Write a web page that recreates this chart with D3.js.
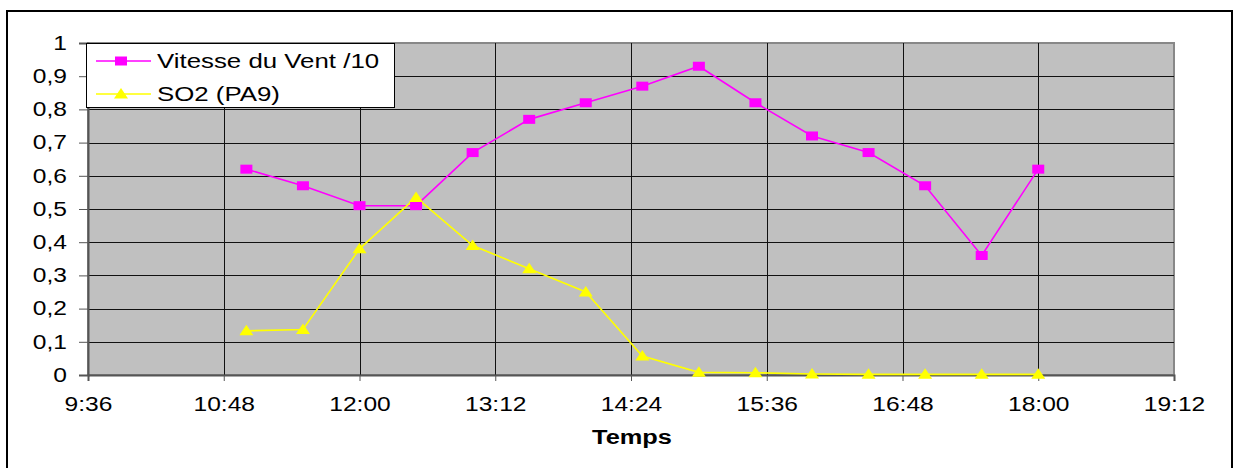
<!DOCTYPE html>
<html>
<head>
<meta charset="utf-8">
<script src="https://cdn.jsdelivr.net/npm/d3@7"></script>
<style>
body { margin: 0; background: #fff; }
svg { display: block; font-family: "Liberation Sans", Arial, sans-serif; }
</style>
</head>
<body>
<div id="chart"></div>
<script>
// heures des mesures
var heures = ["11:00","11:30","12:00","12:30","13:00","13:30","14:00","14:30","15:00","15:30","16:00","16:30","17:00","17:30","18:00"];
var vitesse = [0.62, 0.57, 0.51, 0.51, 0.67, 0.77, 0.82, 0.87, 0.93, 0.82, 0.72, 0.67, 0.57, 0.36, 0.62];
var so2 = [0.133, 0.137, 0.38, 0.535, 0.39, 0.32, 0.25, 0.057, 0.008, 0.007, 0.003, 0.002, 0.002, 0.002, 0.002];
var xTicks = ["9:36","10:48","12:00","13:12","14:24","15:36","16:48","18:00","19:12"];
var yTicks = [0, 0.1, 0.2, 0.3, 0.4, 0.5, 0.6, 0.7, 0.8, 0.9, 1];
var seriesNames = ["Vitesse du Vent /10", "SO2 (PA9)"];

function toMin(s) { var p = s.split(":"); return +p[0] * 60 + +p[1]; }

// le texte de l'image d'origine est étiré horizontalement
function stretch(sel, k) {
	sel.each(function() {
		var w = this.getComputedTextLength();
		d3.select(this)
				.attr("textLength", w * k)
				.attr("lengthAdjust", "spacingAndGlyphs");
	});
}

var width = 1236, height = 468;
var plot = {left: 88, right: 1174, top: 43, bottom: 375};
var fontSize = "19.5px";
var k = 1.26;

var svg = d3.select("#chart").append("svg")
		.attr("width", width)
		.attr("height", height);

// cadre extérieur
svg.append("rect")
		.attr("x", 7).attr("y", 11)
		.attr("width", 1225).attr("height", 470)
		.attr("fill", "#fff")
		.attr("stroke", "#000")
		.attr("stroke-width", 2);

var x = d3.scaleLinear()
		.domain([toMin(xTicks[0]), toMin(xTicks[xTicks.length - 1])])
		.range([plot.left, plot.right]);
var y = d3.scaleLinear()
		.domain([0, 1])
		.range([plot.bottom, plot.top]);

svg.append("rect")
		.attr("x", plot.left).attr("y", plot.top)
		.attr("width", plot.right - plot.left)
		.attr("height", plot.bottom - plot.top)
		.attr("fill", "#c0c0c0")
		.attr("stroke", "#888")
		.attr("stroke-width", 2);

var grid = svg.append("g").attr("id", "grid");
grid.selectAll("line.h")
		.data(yTicks.slice(1, -1))
		.enter()
		.append("line")
		.attr("class", "h")
		.attr("x1", plot.left).attr("x2", plot.right)
		.attr("y1", function(d) {return Math.round(y(d)) + 0.5})
		.attr("y2", function(d) {return Math.round(y(d)) + 0.5})
		.attr("stroke", "#111");
grid.selectAll("line.v")
		.data(xTicks.slice(1, -1))
		.enter()
		.append("line")
		.attr("class", "v")
		.attr("y1", plot.top).attr("y2", plot.bottom)
		.attr("x1", function(d) {return Math.round(x(toMin(d))) + 0.5})
		.attr("x2", function(d) {return Math.round(x(toMin(d))) + 0.5})
		.attr("stroke", "#111");

// axes
var yAxis = d3.axisLeft(y)
		.tickValues(yTicks)
		.tickSize(9)
		.tickPadding(12)
		.tickFormat(function(d) {return d3.format(".1~f")(d).replace(".", ",")});
var gy = svg.append("g")
		.attr("transform", "translate(" + plot.left + ",0)")
		.call(yAxis);

var xAxis = d3.axisBottom(x)
		.tickValues(xTicks.map(toMin))
		.tickSize(6)
		.tickFormat(function(d, i) {return xTicks[i]});
var gx = svg.append("g")
		.attr("transform", "translate(0," + plot.bottom + ")")
		.call(xAxis);
gx.selectAll(".tick text").attr("y", 36).attr("dy", null);

[gx, gy].forEach(function(g) {
	g.select(".domain").attr("stroke", "#555").attr("stroke-width", 2);
	g.selectAll(".tick line").attr("stroke", "#555");
	g.selectAll(".tick text")
			.attr("fill", "#000")
			.style("font-size", fontSize)
			.style("font-family", "Liberation Sans, Arial, sans-serif")
			.call(stretch, k);
});

svg.append("text")
		.attr("x", 632).attr("y", 444)
		.attr("text-anchor", "middle")
		.style("font-size", "20px")
		.style("font-weight", "bold")
		.text("Temps")
		.call(stretch, 1.27);

var line = d3.line()
		.x(function(d) {return x(d.t)})
		.y(function(d) {return y(d.v)});

var vData = heures.map(function(h, i) {return {t: toMin(h), v: vitesse[i]}});
var sData = heures.map(function(h, i) {return {t: toMin(h), v: so2[i]}});

// marqueurs un peu plus larges que hauts, comme dans l'original
var squarePath = "M-6,-4.5H6V4.5H-6Z";
var trianglePath = "M0,-6L7,4.5H-7Z";

svg.append("path")
		.datum(vData)
		.attr("d", line)
		.attr("fill", "none")
		.attr("stroke", "#ff00ff")
		.attr("stroke-width", 1.6);
svg.append("path")
		.datum(sData)
		.attr("d", line)
		.attr("fill", "none")
		.attr("stroke", "#ffff00")
		.attr("stroke-width", 1.6);

svg.append("g").selectAll("path")
		.data(vData)
		.enter()
		.append("path")
		.attr("d", squarePath)
		.attr("transform", function(d) {return "translate(" + x(d.t) + "," + y(d.v) + ")"})
		.attr("fill", "#ff00ff");
svg.append("g").selectAll("path")
		.data(sData)
		.enter()
		.append("path")
		.attr("d", trianglePath)
		.attr("transform", function(d) {return "translate(" + x(d.t) + "," + y(d.v) + ")"})
		.attr("fill", "#ffff00");

// légende
var legend = svg.append("g").attr("id", "legend");
legend.append("rect")
		.attr("x", 86.5).attr("y", 43.5)
		.attr("width", 308).attr("height", 64)
		.attr("fill", "#fff")
		.attr("stroke", "#000");

var items = [
	{name: seriesNames[0], color: "#ff00ff", sym: squarePath},
	{name: seriesNames[1], color: "#ffff00", sym: trianglePath}
];
items.forEach(function(it, i) {
	var ly = 61 + i * 33;
	legend.append("line")
			.attr("x1", 96).attr("x2", 151)
			.attr("y1", ly).attr("y2", ly)
			.attr("stroke", it.color)
			.attr("stroke-width", 1.6);
	legend.append("path")
			.attr("d", it.sym)
			.attr("transform", "translate(121," + ly + ")")
			.attr("fill", it.color);
	legend.append("text")
			.attr("x", 157).attr("y", ly + 6.5)
			.style("font-size", "20.5px")
			.text(it.name)
			.call(stretch, 1.26);
});
</script>
</body>
</html>
